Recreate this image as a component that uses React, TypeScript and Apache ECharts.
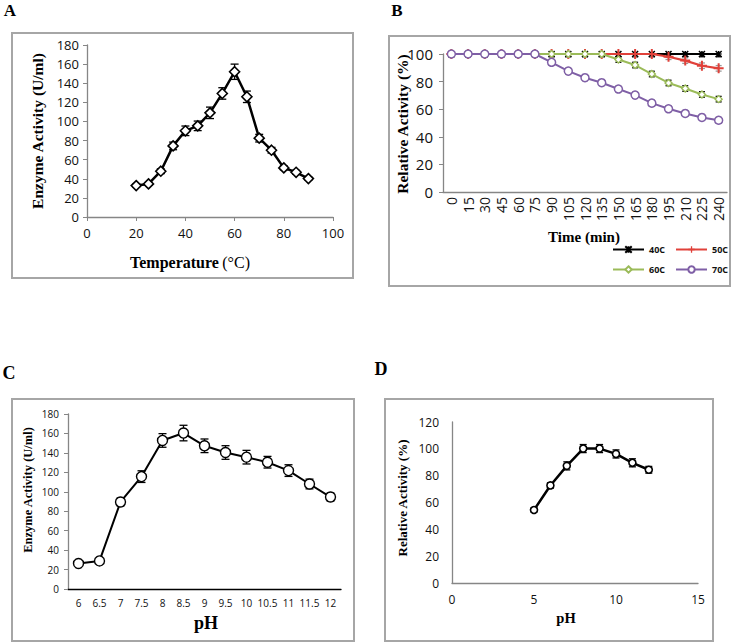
import React, { useEffect, useRef } from 'react';
import * as echarts from 'echarts';

// Panel A: temperature optimum
const tempC = [20, 25, 30, 35, 40, 45, 50, 55, 60, 65, 70, 75, 80, 85, 90];
const tempActivity = [32.9, 34.6, 47.9, 74.4, 90.2, 95.4, 109, 129.3, 152, 125.8, 82.5, 69.9, 51.4, 46.8, 40.2];
const tempError = [1.5, 1.5, 2.5, 4, 5, 5, 6, 6, 8, 6, 4, 3, 2, 2, 1.5];

// Panel B: thermal stability
const timeMin = ['0', '15', '30', '45', '60', '75', '90', '105', '120', '135', '150', '165', '180', '195', '210', '225', '240'];
const rel40C = [100, 100, 100, 100, 100, 100, 100, 100, 100, 100, 100, 100, 100, 100, 100, 100, 100];
const rel50C = [100, 100, 100, 100, 100, 100, 100, 100, 100, 100, 100, 100, 100, 98, 95.2, 91.5, 89.6];
const rel60C = [100, 100, 100, 100, 100, 100, 100, 100, 100, 100, 96, 92, 85.5, 79, 75, 70.7, 67.3];
const rel70C = [100, 100, 100, 100, 100, 100, 94, 87.6, 82.8, 79.2, 74.6, 70.2, 64.4, 60.3, 56.9, 54, 52];
const err40C = [2, 2, 2, 2, 2, 2, 2, 2, 2, 2, 2, 2, 2, 2, 2, 2, 2];
const err50C = [2, 2, 2, 2, 2, 2, 2, 2, 2, 2, 2, 2, 2, 2, 2, 2, 2];
const err60C = [2, 2, 2, 2, 2, 2, 2, 2, 2, 2, 2, 2, 2, 2, 2, 2, 2];
const err70C = [2, 2, 2, 2, 2, 2, 2, 2, 2, 2, 2, 2, 2, 2, 2, 2, 2];

// Panel C: pH optimum
const phLabels = ['6', '6.5', '7', '7.5', '8', '8.5', '9', '9.5', '10', '10.5', '11', '11.5', '12'];
const phActivity = [26.2, 28.9, 89.5, 115.6, 152.8, 160.4, 147.3, 140.4, 135.6, 130.4, 121.8, 108, 94.6];
const phError = [1, 1, 4, 6, 7, 8, 7, 7, 7, 6, 6, 5, 4];

// Panel D: pH stability
const phStab = [5, 6, 7, 8, 9, 10, 11, 12];
const phRel = [54.4, 72.7, 87.3, 100.2, 100.2, 96.2, 89.6, 84.4];
const phRelErr = [1.5, 2, 3, 3, 3, 3, 3, 2.5];

const AXIS_GREY = '#868686';
const SANS = 'Open Sans';
const SERIF = 'Liberation Serif';

function errSeries(gi: number, data: number[][], capHalf: number, color: string | ((lo: number, hi: number) => string), z = 1) {
  return {
    type: 'custom',
    xAxisIndex: gi,
    yAxisIndex: gi,
    silent: true,
    z,
    data,
    renderItem: (params: any, api: any) => {
      const x = api.value(0);
      const lo = api.value(1);
      const hi = api.value(2);
      if (!(hi > lo)) return null;
      const a = api.coord([x, lo]);
      const b = api.coord([x, hi]);
      const stroke = typeof color === 'function' ? color(lo, hi) : color;
      const st = { stroke, lineWidth: 1.3 };
      return {
        type: 'group',
        children: [
          { type: 'line', shape: { x1: a[0], y1: a[1], x2: b[0], y2: b[1] }, style: st },
          { type: 'line', shape: { x1: a[0] - capHalf, y1: a[1], x2: a[0] + capHalf, y2: a[1] }, style: st },
          { type: 'line', shape: { x1: b[0] - capHalf, y1: b[1], x2: b[0] + capHalf, y2: b[1] }, style: st },
        ],
      };
    },
  };
}

function axisBase(fontSize: number, margin: number, ticks: boolean, lineColor = AXIS_GREY) {
  return {
    axisLine: { show: true, lineStyle: { color: lineColor, width: 1.3 } },
    axisTick: { show: ticks, inside: false, length: 4, lineStyle: { color: AXIS_GREY } },
    splitLine: { show: false },
    axisLabel: { fontSize, margin, color: '#111', fontFamily: SANS },
  };
}

export default function App() {
  const ref = useRef<HTMLDivElement>(null);
  useEffect(() => {
    if (!ref.current) return;
    const chart = echarts.init(ref.current, null, { renderer: 'svg' });

    const bErr = (vals: number[], errs: number[]) =>
      vals.map((v, i) => [i, v - errs[i], Math.min(v + errs[i], 100)]);

    const frame = (x: number, y: number, w: number, h: number) => ({
      type: 'rect',
      shape: { x, y, width: w, height: h },
      style: { fill: 'none', stroke: '#a6a6a6', lineWidth: 2 },
      z: 0,
    });
    const txt = (x: number, y: number, text: string, size: number, rot = 0, extra: any = {}) => ({
      type: 'text',
      x,
      y,
      rotation: rot,
      style: {
        text,
        align: 'center',
        verticalAlign: 'middle',
        fontFamily: SERIF,
        fontWeight: 'bold',
        fontSize: size,
        fill: '#000',
        ...extra,
      },
      z: 10,
    });

    const legendBase = {
      orient: 'horizontal',
      left: 612,
      width: 200,
      itemWidth: 31,
      itemHeight: 8,
      itemGap: 10,
      padding: 0,
      textStyle: { fontSize: 9, fontWeight: 'bold', fontFamily: SANS, color: '#111' },
    };

    const option: any = {
      animation: false,
      backgroundColor: '#fff',
      grid: [
        { left: 87, top: 45, width: 246, height: 172 },
        { left: 443, top: 54, width: 284, height: 138 },
        { left: 68, top: 414, width: 273, height: 175 },
        { left: 452, top: 422, width: 246, height: 161 },
      ],
      xAxis: [
        { gridIndex: 0, type: 'value', min: 0, max: 100, interval: 20, ...axisBase(13, 9, true) },
        {
          gridIndex: 1,
          type: 'category',
          data: timeMin,
          boundaryGap: true,
          ...axisBase(14, 5, false),
          axisLabel: { fontSize: 14, margin: 5, color: '#111', fontFamily: SANS, rotate: 90, interval: 0 },
        },
        {
          gridIndex: 2,
          type: 'category',
          data: phLabels,
          boundaryGap: true,
          ...axisBase(10, 9, false, '#000'),
          axisLabel: { fontSize: 10, margin: 9, color: '#111', fontFamily: SANS, interval: 0 },
        },
        { gridIndex: 3, type: 'value', min: 0, max: 15, interval: 5, ...axisBase(12, 10, false) },
      ],
      yAxis: [
        { gridIndex: 0, type: 'value', min: 0, max: 180, interval: 20, ...axisBase(13, 8, true) },
        { gridIndex: 1, type: 'value', min: 0, max: 100, interval: 20, ...axisBase(15, 10, true) },
        { gridIndex: 2, type: 'value', min: 0, max: 180, interval: 20, ...axisBase(10, 9, true) },
        { gridIndex: 3, type: 'value', min: 0, max: 120, interval: 20, ...axisBase(12, 13, false) },
      ],
      legend: [
        { ...legendBase, data: ['40C', '50C'], top: 245 },
        { ...legendBase, data: ['60C', '70C'], top: 265 },
      ],
      series: [
        // A
        errSeries(0, tempC.map((t, i) => [t, tempActivity[i] - tempError[i], tempActivity[i] + tempError[i]]), 4, '#000'),
        {
          type: 'line',
          xAxisIndex: 0,
          yAxisIndex: 0,
          data: tempC.map((t, i) => [t, tempActivity[i]]),
          symbol: 'diamond',
          symbolSize: 10,
          lineStyle: { color: '#000', width: 2.5 },
          itemStyle: { color: '#fff', borderColor: '#000', borderWidth: 1.6 },
          z: 3,
        },
        // B
        errSeries(1, bErr(rel40C, err40C), 3, '#000', 1),
        errSeries(1, bErr(rel50C, err50C), 3, '#9a9a9a', 1),
        errSeries(1, bErr(rel60C, err60C), 3, (lo, hi) => (hi >= 100 ? '#9a9a9a' : '#000'), 1),
        errSeries(1, bErr(rel70C, err70C), 3, (lo, hi) => (hi >= 100 ? '#9a9a9a' : '#000'), 1),
        {
          name: '40C',
          type: 'line',
          xAxisIndex: 1,
          yAxisIndex: 1,
          data: rel40C,
          symbol: 'path://M0,0L10,10M10,0L0,10M5,0L5,10',
          symbolSize: 6,
          lineStyle: { color: '#000', width: 2 },
          itemStyle: { color: '#000', borderColor: '#000', borderWidth: 1.5 },
          z: 2,
        },
        {
          name: '50C',
          type: 'line',
          xAxisIndex: 1,
          yAxisIndex: 1,
          data: rel50C,
          symbol: 'path://M4,0H6V10H4ZM0,4H10V6H0Z',
          symbolSize: 10,
          lineStyle: { color: '#e0413a', width: 2.2 },
          itemStyle: { color: '#e0413a', borderWidth: 0 },
          z: 3,
        },
        {
          name: '60C',
          type: 'line',
          xAxisIndex: 1,
          yAxisIndex: 1,
          data: rel60C,
          symbol: 'diamond',
          symbolSize: 7,
          lineStyle: { color: '#9bbb59', width: 2 },
          itemStyle: { color: '#fff', borderColor: '#9bbb59', borderWidth: 1.4 },
          z: 4,
        },
        {
          name: '70C',
          type: 'line',
          xAxisIndex: 1,
          yAxisIndex: 1,
          data: rel70C,
          symbol: 'circle',
          symbolSize: 8,
          lineStyle: { color: '#7f5fa6', width: 2 },
          itemStyle: { color: '#fff', borderColor: '#7f5fa6', borderWidth: 1.5 },
          z: 5,
        },
        // C
        errSeries(2, phActivity.map((v, i) => [i, v - phError[i], v + phError[i]]), 4, '#000'),
        {
          type: 'line',
          xAxisIndex: 2,
          yAxisIndex: 2,
          data: phActivity,
          symbol: 'circle',
          symbolSize: 10,
          lineStyle: { color: '#000', width: 2 },
          itemStyle: { color: '#fff', borderColor: '#000', borderWidth: 1.4 },
          z: 3,
        },
        // D
        errSeries(3, phStab.map((p, i) => [p, phRel[i] - phRelErr[i], phRel[i] + phRelErr[i]]), 3.5, '#000'),
        {
          type: 'line',
          xAxisIndex: 3,
          yAxisIndex: 3,
          data: phStab.map((p, i) => [p, phRel[i]]),
          symbol: 'circle',
          symbolSize: 7,
          lineStyle: { color: '#000', width: 2.5 },
          itemStyle: { color: '#fff', borderColor: '#000', borderWidth: 1.6 },
          z: 3,
        },
      ],
      graphic: [
        frame(12, 33, 341, 245),
        frame(389, 36, 341, 250),
        frame(12, 399, 342, 242),
        frame(385, 399, 328, 242),
        txt(10, 10, 'A', 17),
        txt(397, 10, 'B', 17),
        txt(9, 373, 'C', 18),
        txt(381, 369, 'D', 18),
        txt(37, 131, 'Enzyme Activity (U/ml)', 15.5, Math.PI / 2),
        {
          type: 'text',
          x: 190,
          y: 262,
          style: {
            text: '{b|Temperature} {n|(°C)}',
            align: 'center',
            verticalAlign: 'middle',
            rich: {
              b: { fontFamily: SERIF, fontWeight: 'bold', fontSize: 16, fill: '#000' },
              n: { fontFamily: SERIF, fontWeight: 'normal', fontSize: 16, fill: '#000' },
            },
          },
          z: 10,
        },
        txt(402, 124, 'Relative Activity (%)', 15.5, Math.PI / 2),
        txt(584, 237, 'Time (min)', 15),
        txt(28, 490, 'Enzyme Activity (U/ml)', 12.5, Math.PI / 2),
        txt(206, 623, 'pH', 18),
        txt(402, 498, 'Relative Activity (%)', 13, Math.PI / 2),
        txt(566, 618, 'pH', 14.5),
      ],
    };
    chart.setOption(option);
    return () => chart.dispose();
  }, []);
  return (
    <div
      ref={ref}
      style={{ position: 'fixed', left: 0, top: 0, width: 732, height: 642, background: '#fff' }}
    />
  );
}
